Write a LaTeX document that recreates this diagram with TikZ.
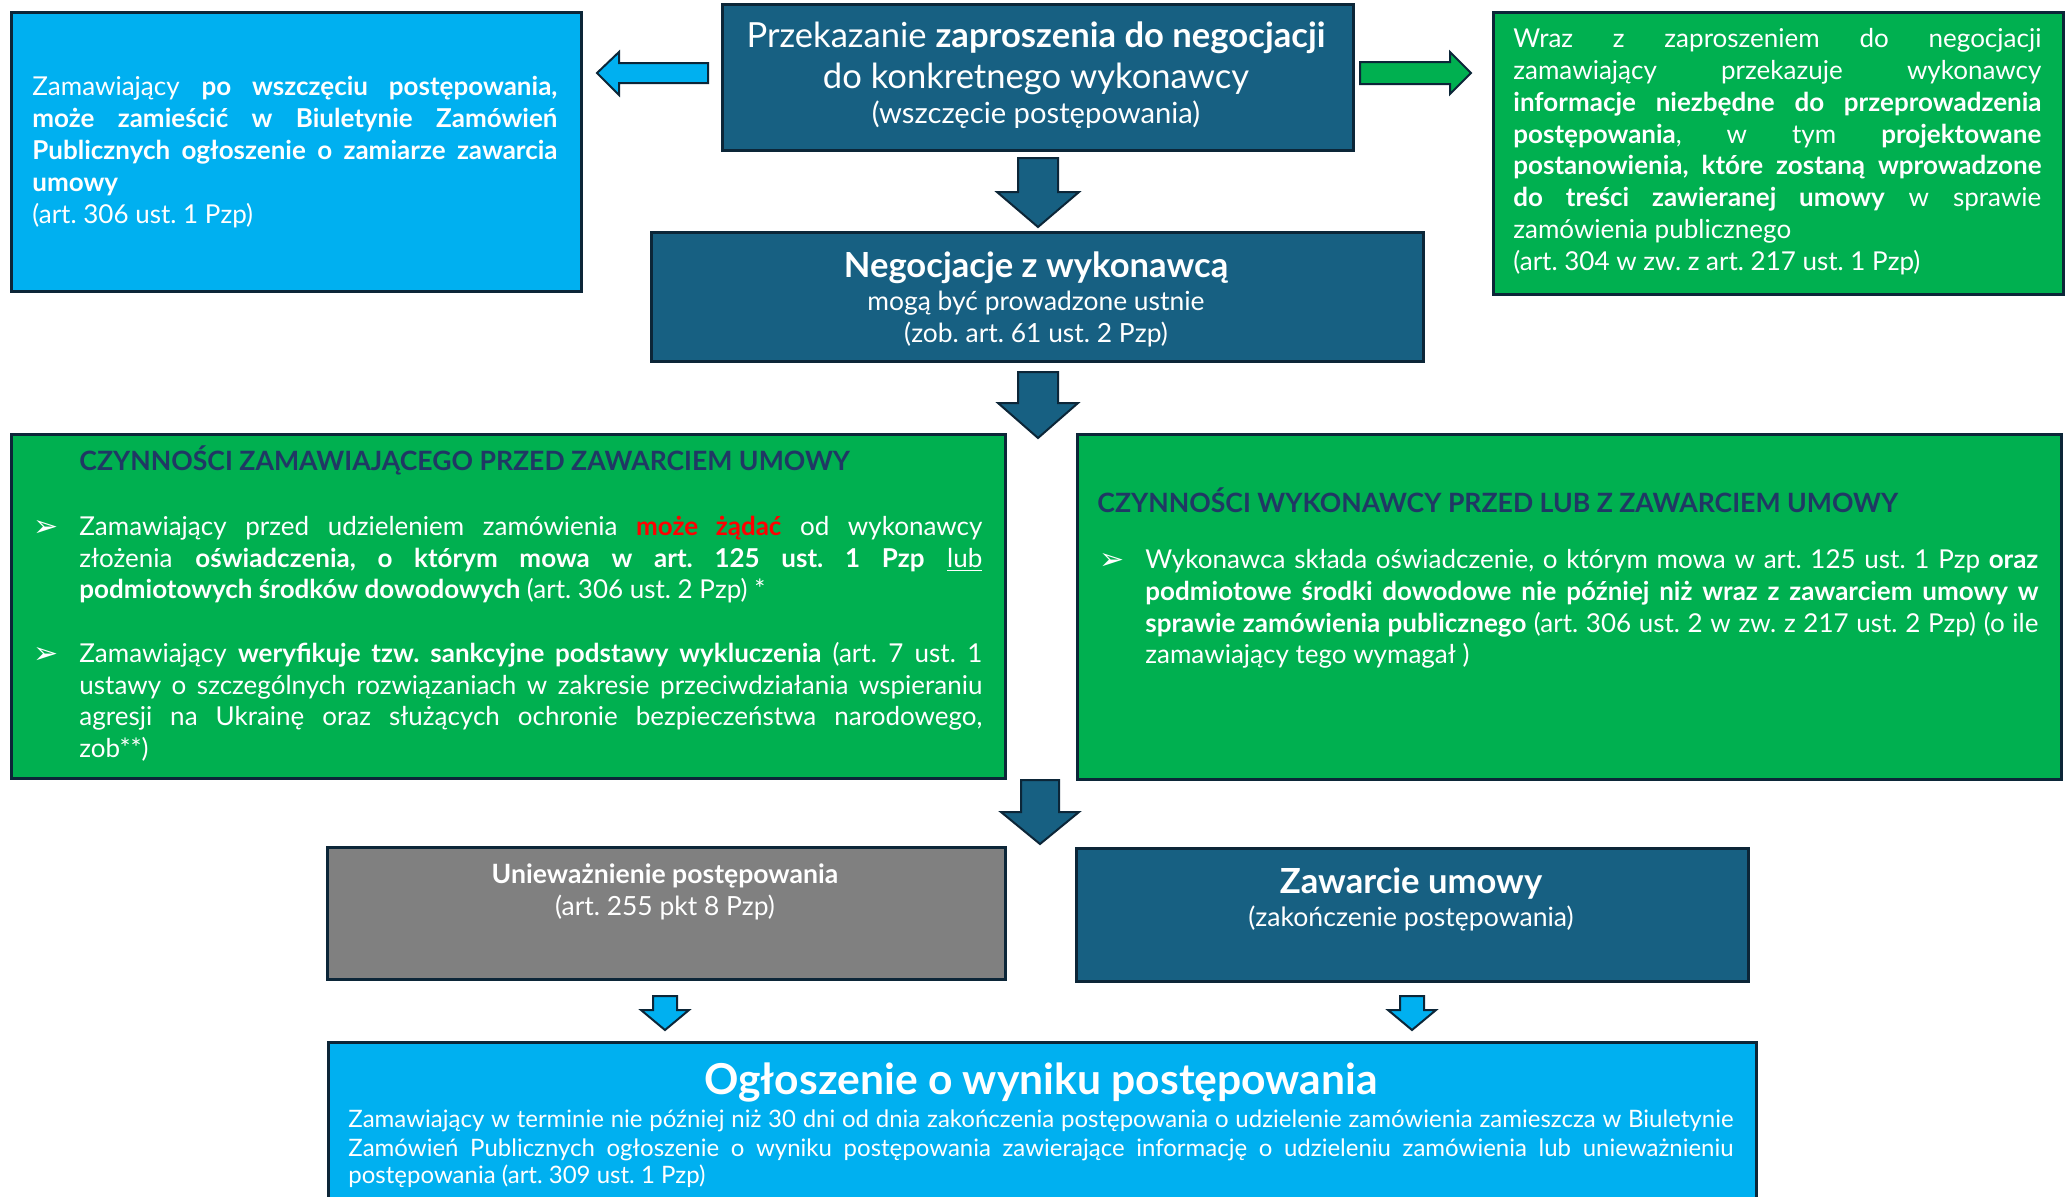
\documentclass[tikz,border=0pt]{standalone}
\usepackage{fontspec}
\setmainfont{Lato}
\newfontfamily\dejavu{DejaVu Sans}
\definecolor{lblue}{HTML}{00B0F0}
\definecolor{lgreen}{HTML}{00B050}
\definecolor{dblue}{HTML}{176082}
\definecolor{bcol}{HTML}{0C2638}
\definecolor{hnavy}{HTML}{203864}
\definecolor{gbox}{HTML}{808080}
\definecolor{rtext}{HTML}{FF0000}
\hyphenpenalty=10000
\tolerance=9999
\hbadness=10000
\hfuzz=50pt
\frenchspacing
\tikzset{
  box/.style={draw=bcol, line width=1.5pt, inner sep=0pt, anchor=north west},
  txt/.style={text=white, inner sep=0pt, font=\fontsize{13pt}{16pt}\selectfont},
  arr/.style={draw=bcol, line width=1pt, line join=miter},
  bul/.style={font=\fontsize{15pt}{16pt}\dejavu},
}
% justified line, left line, centred line
\newcommand\jtl[6][]{\node[txt,anchor=base west,#1] (#2) at (#3,#4) {\makebox[#5][s]{#6}};}
\newcommand\ltl[5][]{\node[txt,anchor=base west,#1] (#2) at (#3,#4) {#5};}
\newcommand\ctl[5][]{\node[txt,anchor=base,#1] (#2) at (#3,#4) {#5};}
% block arrows: cx, ytop, yhead, ytip, half shaft, half head, colour
\newcommand\bdown[7]{\draw[arr, fill=#7] (#1-#5,#2) -- (#1+#5,#2) -- (#1+#5,#3) -- (#1+#6,#3) -- (#1,#4) -- (#1-#6,#3) -- (#1-#5,#3) -- cycle;}
\begin{document}
\begin{tikzpicture}[x=0.5pt,y=-0.5pt]
\useasboundingbox (0,0) rectangle (2069,1196);
\fill[white] (0,0) rectangle (2069,1196);
\clip (0,0) rectangle (2069,1196);

% ---------- boxes ----------
\node[box, fill=lblue, minimum width=285pt, minimum height=139.5pt] (lb) at (10,11) {};
\node[box, fill=dblue, minimum width=315.5pt, minimum height=73pt] (top) at (721,3) {};
\node[box, fill=lgreen, minimum width=285pt, minimum height=141pt] (gr) at (1492,11) {};
\node[box, fill=dblue, minimum width=386pt, minimum height=64.5pt] (neg) at (650,231) {};
\node[box, fill=lgreen, minimum width=497pt, minimum height=172pt] (gl) at (10,433) {};
\node[box, fill=lgreen, minimum width=492pt, minimum height=172.5pt] (grr) at (1076,433) {};
\node[box, fill=gbox, minimum width=339pt, minimum height=66pt] (gray) at (326,846) {};
\node[box, fill=dblue, minimum width=336pt, minimum height=66.5pt] (zaw) at (1075,847) {};
\node[box, fill=lblue, minimum width=714pt, minimum height=100pt] (bot) at (327,1041) {};

% ---------- arrows ----------
\draw[arr, fill=lblue] (708,63) -- (619,63) -- (619,52) -- (597,73) -- (619,95) -- (619,83) -- (708,83) -- cycle;
\draw[arr, fill=lgreen] (1360,62) -- (1450,62) -- (1450,52) -- (1471,73) -- (1450,94) -- (1450,84) -- (1360,84) -- cycle;
\bdown{1038}{158}{192}{227}{20}{41}{dblue}
\bdown{1038}{372}{403}{438}{20}{40}{dblue}
\bdown{1040}{780}{812}{844}{19}{39}{dblue}
\bdown{665}{996}{1010}{1030}{12}{24}{lblue}
\bdown{1412}{996}{1010}{1030}{12}{24}{lblue}

% ---------- top box ----------
\ctl[font=\fontsize{17.3pt}{20pt}\selectfont]{t1}{1036}{47}{Przekazanie \textbf{zaproszenia do negocjacji}}
\ctl[font=\fontsize{17.3pt}{20pt}\selectfont]{t2}{1036}{88}{do konkretnego wykonawcy}
\ctl[font=\fontsize{14.6pt}{17pt}\selectfont]{t3}{1036}{123}{(wszczęcie postępowania)}

% ---------- negocjacje ----------
\ctl[font=\fontsize{17.3pt}{20pt}\bfseries]{n1}{1036}{277}{Negocjacje z wykonawcą}
\ctl[font=\fontsize{13.2pt}{16pt}\selectfont]{n2}{1036}{310}{mogą być prowadzone ustnie}
\ctl[font=\fontsize{13.2pt}{16pt}\selectfont]{n3}{1036}{342}{(zob. art. 61 ust. 2 Pzp)}

% ---------- light blue box ----------
\jtl{lb1}{32}{95}{262.5pt}{Zamawiający \textbf{po wszczęciu postępowania,}}
\jtl{lb2}{32}{127}{262.5pt}{\textbf{może zamieścić w Biuletynie Zamówień}}
\jtl{lb3}{32}{159}{262.5pt}{\textbf{Publicznych ogłoszenie o zamiarze zawarcia}}
\ltl{lb4}{32}{191}{\textbf{umowy}}
\ltl{lb5}{32}{223}{(art. 306 ust. 1 Pzp)}

% ---------- green top right ----------
\jtl{g1}{1513}{47}{264pt}{Wraz z zaproszeniem do negocjacji}
\jtl{g2}{1513}{79}{264pt}{zamawiający przekazuje wykonawcy}
\jtl{g3}{1513}{111}{264pt}{\textbf{informacje niezbędne do przeprowadzenia}}
\jtl{g4}{1513}{143}{264pt}{\textbf{postępowania}, w tym \textbf{projektowane}}
\jtl{g5}{1513}{174}{264pt}{\textbf{postanowienia, które zostaną wprowadzone}}
\jtl{g6}{1513}{206}{264pt}{\textbf{do treści zawieranej umowy} w sprawie}
\ltl{g7}{1513}{238}{zamówienia publicznego}
\ltl{g8}{1513}{270}{(art. 304 w zw. z art. 217 ust. 1 Pzp)}

% ---------- green left ----------
\ltl[text=hnavy, font=\fontsize{13.3pt}{16pt}\bfseries]{glh}{79}{470}{CZYNNOŚCI ZAMAWIAJĄCEGO PRZED ZAWARCIEM UMOWY}
\ltl[bul]{glb1}{33}{536}{➢}
\jtl{gl1}{79}{535}{451.5pt}{Zamawiający przed udzieleniem zamówienia \textcolor{rtext}{\textbf{może żądać}} od wykonawcy}
\jtl{gl2}{79}{567}{451.5pt}{złożenia \textbf{oświadczenia, o którym mowa w art. 125 ust. 1 Pzp} \underline{lub}}
\ltl{gl3}{79}{598}{\textbf{podmiotowych środków dowodowych} (art. 306 ust. 2 Pzp) *}
\ltl[bul]{glb2}{33}{663}{➢}
\jtl{gl4}{79}{662}{451.5pt}{Zamawiający \textbf{weryfikuje tzw. sankcyjne podstawy wykluczenia} (art. 7 ust. 1}
\jtl{gl5}{79}{694}{451.5pt}{ustawy o szczególnych rozwiązaniach w zakresie przeciwdziałania wspieraniu}
\jtl{gl6}{79}{725}{451.5pt}{agresji na Ukrainę oraz służących ochronie bezpieczeństwa narodowego,}
\ltl{gl7}{79}{757}{zob**)}

% ---------- green right ----------
\ltl[text=hnavy, font=\fontsize{13.3pt}{16pt}\bfseries]{grh}{1097}{512}{CZYNNOŚCI WYKONAWCY PRZED LUB Z ZAWARCIEM UMOWY}
\ltl[bul]{grb1}{1099}{569}{➢}
\jtl{gr1}{1145}{568}{446.5pt}{Wykonawca składa oświadczenie, o którym mowa w art. 125 ust. 1 Pzp \textbf{oraz}}
\jtl{gr2}{1145}{600}{446.5pt}{\textbf{podmiotowe środki dowodowe nie później niż wraz z zawarciem umowy w}}
\jtl{gr3}{1145}{632}{446.5pt}{\textbf{sprawie zamówienia publicznego} (art. 306 ust. 2 w zw. z 217 ust. 2 Pzp) (o ile}
\ltl{gr4}{1145}{663}{zamawiający tego wymagał )}

% ---------- gray / zawarcie ----------
\ctl[font=\fontsize{13.3pt}{16pt}\bfseries]{u1}{665}{883}{Unieważnienie postępowania}
\ctl[font=\fontsize{13.2pt}{16pt}\selectfont]{u2}{665}{915}{(art. 255 pkt 8 Pzp)}
\ctl[font=\fontsize{17.3pt}{20pt}\bfseries]{z1}{1411}{893}{Zawarcie umowy}
\ctl[font=\fontsize{13.3pt}{16pt}\selectfont]{z2}{1411}{926}{(zakończenie postępowania)}

% ---------- bottom ----------
\ctl[font=\fontsize{21.3pt}{25pt}\bfseries]{b0}{1041}{1094}{Ogłoszenie o wyniku postępowania}
\jtl[font=\fontsize{12pt}{14.5pt}\selectfont]{b1}{348}{1127}{692.5pt}{Zamawiający w terminie nie później niż 30 dni od dnia zakończenia postępowania o udzielenie zamówienia zamieszcza w Biuletynie}
\jtl[font=\fontsize{12pt}{14.5pt}\selectfont]{b2}{348}{1156}{692.5pt}{Zamówień Publicznych ogłoszenie o wyniku postępowania zawierające informację o udzieleniu zamówienia lub unieważnieniu}
\ltl[font=\fontsize{12pt}{14.5pt}\selectfont]{b3}{348}{1183}{postępowania (art. 309 ust. 1 Pzp)}
\end{tikzpicture}
\end{document}
